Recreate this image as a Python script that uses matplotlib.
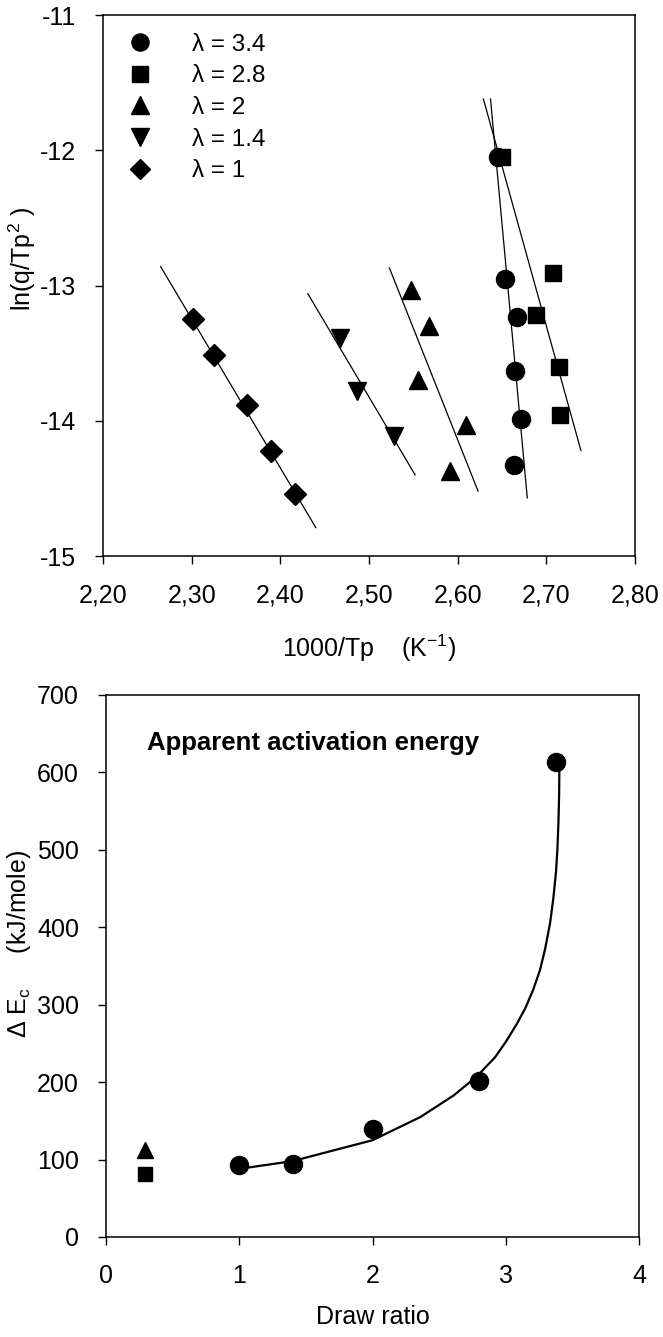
import matplotlib
matplotlib.use("Agg")
import matplotlib.pyplot as plt
from matplotlib.ticker import FuncFormatter

# ---- top panel: ln(q/Tp^2) vs 1000/Tp, one series per draw ratio ----
LAMBDAS = ["3.4", "2.8", "2", "1.4", "1"]
MARKERS = ["o", "s", "^", "v", "D"]
MSIZES = [13, 11.5, 13, 13, 11]

x_34 = [2.646, 2.653, 2.667, 2.665, 2.671, 2.664]
y_34 = [-12.05, -12.95, -13.23, -13.63, -13.99, -14.33]
x_28 = [2.650, 2.707, 2.688, 2.714, 2.715]
y_28 = [-12.05, -12.91, -13.22, -13.60, -13.96]
x_2 = [2.547, 2.568, 2.555, 2.609, 2.591]
y_2 = [-13.03, -13.30, -13.70, -14.03, -14.37]
x_14 = [2.467, 2.486, 2.528]
y_14 = [-13.39, -13.78, -14.11]
x_1 = [2.301, 2.325, 2.362, 2.389, 2.417]
y_1 = [-13.25, -13.51, -13.885, -14.22, -14.54]

# fitted straight lines (end points)
fit_x_34 = [2.637, 2.6785]
fit_y_34 = [-11.62, -14.57]
fit_x_28 = [2.629, 2.739]
fit_y_28 = [-11.62, -14.22]
fit_x_2 = [2.523, 2.623]
fit_y_2 = [-12.87, -14.52]
fit_x_14 = [2.431, 2.552]
fit_y_14 = [-13.06, -14.40]
fit_x_1 = [2.265, 2.440]
fit_y_1 = [-12.86, -14.79]

# ---- bottom panel: apparent activation energy vs draw ratio ----
draw_ratio = [1.0, 1.4, 2.0, 2.8, 3.38]
delta_ec = [93, 94, 139, 201, 614]
tri_x = [0.29]
tri_y = [112]
sq_x = [0.29]
sq_y = [81]
curve_x = [1.0, 1.4, 2.0, 2.36, 2.61, 2.78, 2.919, 3.0, 3.082, 3.145, 3.207,
           3.257, 3.295, 3.332, 3.357, 3.377, 3.387, 3.395, 3.400, 3.402]
curve_y = [88, 98, 125, 155, 183, 207, 232, 252, 275, 295, 320,
           345, 372, 405, 438, 472, 500, 535, 570, 603]

FONT = "Liberation Sans"


def setup_style() -> None:
    plt.rcParams.update(
        {
            "font.family": [FONT, "DejaVu Sans"],
            "font.size": 18,
            "mathtext.fontset": "custom",
            "mathtext.rm": FONT,
            "mathtext.it": FONT,
            "axes.linewidth": 1.1,
            "xtick.direction": "out",
            "ytick.direction": "out",
            "xtick.major.size": 5.5,
            "ytick.major.size": 5.5,
            "xtick.major.width": 1.0,
            "ytick.major.width": 1.0,
        }
    )


def plot_top(fig) -> None:
    ax = fig.add_axes([0.1554, 0.5841, 0.8024, 0.4046])
    series = [
        (x_34, y_34, fit_x_34, fit_y_34),
        (x_28, y_28, fit_x_28, fit_y_28),
        (x_2, y_2, fit_x_2, fit_y_2),
        (x_14, y_14, fit_x_14, fit_y_14),
        (x_1, y_1, fit_x_1, fit_y_1),
    ]
    handles = []
    for (xs, ys, fx, fy), lam, mk, ms in zip(series, LAMBDAS, MARKERS, MSIZES):
        ax.plot(fx, fy, color="black", linewidth=0.9, zorder=2)
        (h,) = ax.plot(xs, ys, linestyle="none", marker=mk, color="black",
                       markersize=ms, zorder=3, label=f"λ = {lam}")
        handles.append(h)
    ax.set_xlim(2.2, 2.8)
    ax.set_ylim(-15, -11)
    ax.set_xticks([2.2, 2.3, 2.4, 2.5, 2.6, 2.7, 2.8])
    ax.set_yticks([-15, -14, -13, -12, -11])
    ax.xaxis.set_major_formatter(FuncFormatter(lambda v, _: f"{v:.2f}".replace(".", ",")))
    ax.yaxis.set_major_formatter(FuncFormatter(lambda v, _: f"{v:.0f}"))
    ax.tick_params(labelsize=18, pad=14)
    ax.set_xlabel("1000/Tp    (K$^{-1}$)", fontsize=18)
    ax.xaxis.set_label_coords(0.5, -0.142)
    ax.set_ylabel("ln(q/Tp$^{2}$ )", fontsize=18)
    ax.yaxis.set_label_coords(-0.122, 0.55)
    ax.legend(handles=handles, loc="upper left", bbox_to_anchor=(0.047, 0.966),
              frameon=False, fontsize=17.5, handlelength=1.0, handletextpad=1.65,
              labelspacing=0.4, borderpad=0, borderaxespad=0, markerscale=0.95)


def plot_bottom(fig) -> None:
    ax = fig.add_axes([0.1599, 0.0748, 0.804, 0.4054])
    ax.plot(curve_x, curve_y, color="black", linewidth=1.6, zorder=2)
    ax.plot(draw_ratio, delta_ec, linestyle="none", marker="o", color="black",
            markersize=13, zorder=3)
    ax.plot(tri_x, tri_y, linestyle="none", marker="^", color="black", markersize=11)
    ax.plot(sq_x, sq_y, linestyle="none", marker="s", color="black", markersize=10)
    ax.set_xlim(0, 4)
    ax.set_ylim(0, 700)
    ax.set_xticks([0, 1, 2, 3, 4])
    ax.set_yticks([0, 100, 200, 300, 400, 500, 600, 700])
    ax.tick_params(labelsize=18, pad=14)
    ax.set_xlabel("Draw ratio", fontsize=18)
    ax.xaxis.set_label_coords(0.5, -0.125)
    ax.set_ylabel("Δ E$_{c}$     (kJ/mole)", fontsize=18)
    ax.yaxis.set_label_coords(-0.137, 0.54)
    ax.text(0.077, 0.911, "Apparent activation energy", transform=ax.transAxes,
            fontsize=18.5, fontweight="bold", va="center", ha="left")


def main() -> None:
    setup_style()
    fig = plt.figure(figsize=(6.63, 13.37), dpi=100)
    plot_top(fig)
    plot_bottom(fig)
    fig.savefig("out.png", dpi=100, facecolor="white")
    plt.close(fig)


if __name__ == "__main__":
    main()
